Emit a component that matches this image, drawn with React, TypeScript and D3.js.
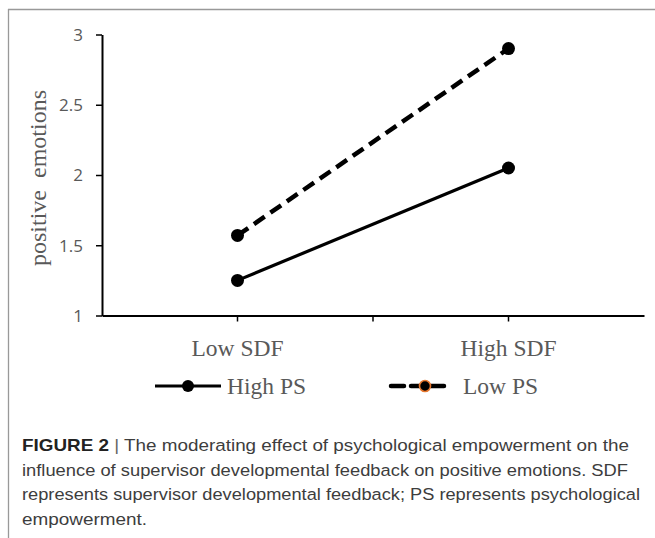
import { useEffect, useRef } from "react";
import * as d3 from "d3";

// categories along x, and the two PS lines
const categories = ["Low SDF", "High SDF"];
const highPS = [1.25, 2.05];
const lowPS = [1.57, 2.9];
const yTicks = [1, 1.5, 2, 2.5, 3];
const seriesNames = ["High PS", "Low PS"];
const captionLines = [
    "influence of supervisor developmental feedback on positive emotions. SDF",
    "represents supervisor developmental feedback; PS represents psychological",
    "empowerment.",
];

const W = 655;
const H = 538;
const gray = "#595959";

function App() {
    const ref = useRef<SVGSVGElement>(null);

    useEffect(() => {
        const svg = d3.select(ref.current);
        svg.selectAll("*").remove();

        // frame lines (left + top)
        svg.append("line").attr("x1", 8.5).attr("x2", 8.5).attr("y1", 9).attr("y2", H).attr("stroke", "#999").attr("stroke-width", 1.3);
        svg.append("line").attr("x1", 8).attr("x2", W).attr("y1", 9.5).attr("y2", 9.5).attr("stroke", "#999").attr("stroke-width", 1.3);

        const x = d3.scaleBand<string>().domain(categories).range([102, 644]);
        const y = d3.scaleLinear().domain([1, 3]).range([315.5, 34.5]);
        const cx = (c: string) => (x(c) as number) + x.bandwidth() / 2;

        // ####################### y axis #######################
        const gy = svg.append("g").attr("transform", "translate(102,0)")
            .call(d3.axisLeft(y).tickValues(yTicks).tickSize(6).tickSizeOuter(0).tickFormat((d) => String(d)));
        gy.select(".domain").attr("stroke", "#000").attr("stroke-width", 2);
        gy.selectAll(".tick line").attr("stroke", "#000").attr("stroke-width", 1.5);
        gy.selectAll(".tick text").attr("fill", gray).attr("font-size", 17)
            .attr("font-family", "'Open Sans', 'Liberation Sans', sans-serif").attr("x", -19).attr("dy", "0.35em");

        // ####################### x axis #######################
        const gx = svg.append("g").attr("transform", "translate(0,315.5)")
            .call(d3.axisBottom(x).tickSize(0).tickSizeOuter(0));
        gx.select(".domain").attr("stroke", "#000").attr("stroke-width", 2);
        gx.selectAll(".tick text").attr("fill", gray).attr("font-size", 23.5)
            .attr("font-family", "'Liberation Serif', 'Times New Roman', serif").attr("y", 40).attr("dy", 0);
        // small tick marks: category centres and the band boundary
        gx.selectAll(".edge").data([cx(categories[0]), x.range()[0] + x.bandwidth(), cx(categories[1])]).enter()
            .append("line").attr("x1", (d) => d).attr("x2", (d) => d).attr("y1", 0).attr("y2", 6)
            .attr("stroke", "#000").attr("stroke-width", 1.5);

        // y title
        svg.append("text").attr("transform", "translate(46,178) rotate(-90)")
            .attr("text-anchor", "middle").attr("fill", gray).attr("font-size", 24)
            .attr("font-family", "'Liberation Serif', 'Times New Roman', serif")
            .style("white-space", "pre")
            .text("positive  emotions");

        // ####################### lines #######################
        const line = d3.line<number>().x((_, i) => cx(categories[i])).y((d) => y(d));
        const series = [
            { vals: highPS, dash: null, w: 3.2 },
            { vals: lowPS, dash: "13,7", w: 4.5 },
        ];
        series.forEach((s) => {
            svg.append("path").attr("d", line(s.vals)).attr("fill", "none").attr("stroke", "#000")
                .attr("stroke-width", s.w).attr("stroke-dasharray", s.dash);
            svg.selectAll(null).data(s.vals).enter().append("circle")
                .attr("cx", (_, i) => cx(categories[i])).attr("cy", (d) => y(d)).attr("r", 6.5).attr("fill", "#000");
        });

        // ####################### legend #######################
        const ly = 386;
        const lg = svg.append("g");
        lg.append("line").attr("x1", 155).attr("x2", 221).attr("y1", ly).attr("y2", ly).attr("stroke", "#000").attr("stroke-width", 3.2);
        lg.append("circle").attr("cx", 188).attr("cy", ly).attr("r", 6).attr("fill", "#000");
        lg.append("line").attr("x1", 391).attr("x2", 451).attr("y1", ly).attr("y2", ly).attr("stroke", "#000")
            .attr("stroke-width", 4.5).attr("stroke-dasharray", "13,7").attr("stroke-linecap", "round");
        lg.append("circle").attr("cx", 425).attr("cy", ly).attr("r", 5.5).attr("fill", "#000").attr("stroke", "#e8772e").attr("stroke-width", 1.6);
        lg.selectAll(".lt").data(seriesNames).enter().append("text")
            .attr("x", (_, i) => (i === 0 ? 227 : 463)).attr("y", ly + 8)
            .attr("fill", gray).attr("font-size", 23.5)
            .attr("font-family", "'Liberation Serif', 'Times New Roman', serif").text((d) => d);

        // ####################### caption #######################
        const cap = svg.append("g").attr("font-family", "'Liberation Sans', Arial, sans-serif")
            .attr("font-size", 16.3).attr("fill", "#3d3d3d");
        const t0 = cap.append("text").attr("x", 22).attr("y", 451).attr("textLength", 607).attr("lengthAdjust", "spacingAndGlyphs");
        t0.append("tspan").attr("font-weight", "bold").attr("fill", "#222").text("FIGURE 2");
        t0.append("tspan").attr("fill", "#666").text(" | ");
        t0.append("tspan").text("The moderating effect of psychological empowerment on the");
        const lens = [606, 618, 125];
        cap.selectAll(".cl").data(captionLines).enter().append("text")
            .attr("x", 22).attr("y", (_, i) => 475.5 + i * 24.5)
            .attr("textLength", (_, i) => lens[i]).attr("lengthAdjust", "spacingAndGlyphs")
            .text((d) => d);
    }, []);

    return (
        <div style={{ position: "absolute", left: 0, top: 0 }}>
            <svg ref={ref} width={W} height={H} style={{ display: "block", background: "#fff" }} />
        </div>
    );
}

export default App;
